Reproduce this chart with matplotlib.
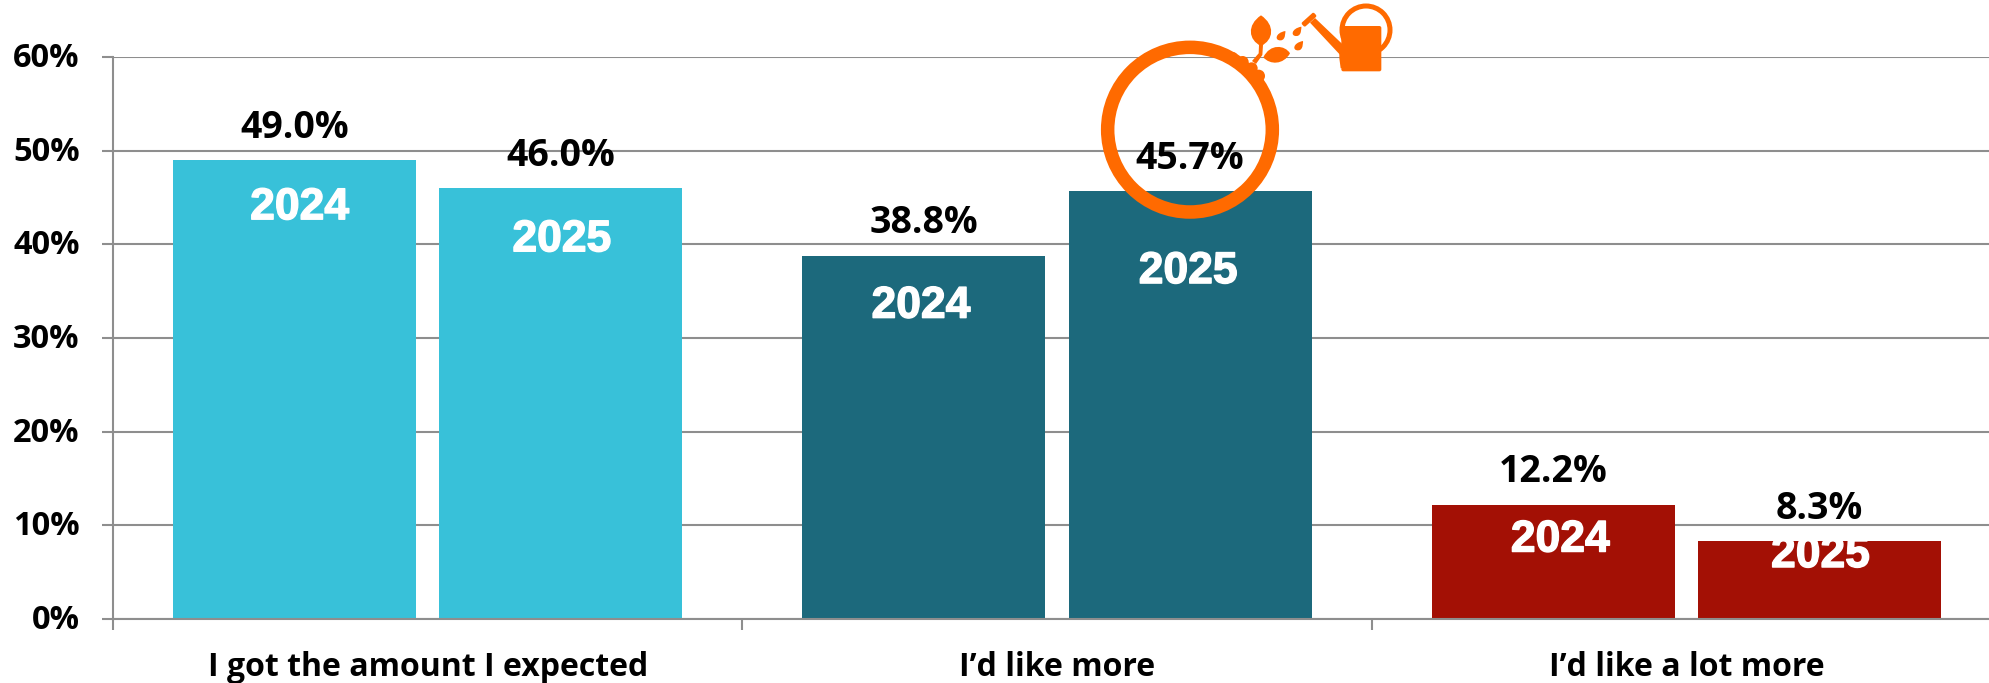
import numpy as np
import matplotlib
matplotlib.use("Agg")
import matplotlib.pyplot as plt
from matplotlib.patches import Circle, PathPatch, Polygon, FancyBboxPatch
from matplotlib.path import Path
from matplotlib.transforms import Affine2D, ScaledTranslation
import matplotlib.patheffects as pe

categories = ["I got the amount I expected", "I\u2019d like more", "I\u2019d like a lot more"]
values_2024 = [49.0, 38.8, 12.2]
values_2025 = [46.0, 45.7, 8.3]
series_names = ["2024", "2025"]
y_ticks = [0, 10, 20, 30, 40, 50, 60]
y_tick_labels = ["0%", "10%", "20%", "30%", "40%", "50%", "60%"]
colors = ["#38C1D9", "#1C697C", "#A31005"]

GRID = "#8E8E8E"
ORANGE = "#FF6A00"
W, H = 1990, 683
fig = plt.figure(figsize=(W / 100, H / 100), dpi=100, facecolor="white")
ax = fig.add_axes([113 / W, (H - 618.7) / H, (2001 - 113) / W, (618.7 - 57.3) / H])
ax.set_xlim(0, 3)
ax.set_ylim(0, 60)
PX = 72 / 100

open_bold = dict(family="Open Sans", fontweight="bold", color="black")
white_bold = dict(family="Liberation Sans", fontweight="bold", color="white")

x = np.arange(len(categories)) + 0.5
bar_w = 0.386
shift = 0.2115
name_offsets = {"2024": [(5, -43), (-3, -46), (7, -31)], "2025": [(1, -47), (-2, -76), (1, -10)]}
for vals, name, sgn in ((values_2024, "2024", -1), (values_2025, "2025", 1)):
    bars = ax.bar(x + sgn * shift, vals, bar_w, color=colors, zorder=2)
    for b, v, off in zip(bars, vals, name_offsets[name]):
        cx = b.get_x() + b.get_width() / 2
        ax.annotate(f"{v:.1f}%", (cx, v), xytext=(0, 37 * PX), textcoords="offset points",
                    ha="center", va="center_baseline", fontsize=27, zorder=6, **open_bold)
        ax.annotate(name, (cx, v), xytext=(off[0] * PX, off[1] * PX), textcoords="offset points",
                    ha="center", va="center_baseline", fontsize=32, zorder=5, **white_bold,
                    path_effects=[pe.withStroke(linewidth=1.0, foreground="white")])

ax.set_yticks(y_ticks, y_tick_labels, fontsize=23.5, **open_bold)
ax.set_xticks(np.arange(4))
ax.set_xticklabels([])
ax.set_xticks(x, categories, minor=True, fontsize=23, **open_bold)
ax.tick_params(axis="y", length=8, width=1.5, color=GRID, pad=16)
ax.tick_params(axis="x", which="major", length=8, width=1.5, color=GRID)
ax.tick_params(axis="x", which="minor", length=0, pad=23)
up = ScaledTranslation(0, 2.5 / 100, fig.dpi_scale_trans)
for t in ax.get_yticklabels():
    t.set_transform(t.get_transform() + up)
ax.grid(axis="y", color=GRID, lw=1.5, zorder=1)
ax.set_axisbelow(True)
for s in ("top", "right"):
    ax.spines[s].set_visible(False)
for s in ("left", "bottom"):
    ax.spines[s].set_color(GRID)
    ax.spines[s].set_linewidth(1.5)

# decorative badge, drawn in crop-based pixel coordinates (overlay, not data)
to_fig = Affine2D().scale(1 / 3, 1 / 3).translate(1060, 0).scale(1 / W, -1 / H).translate(0, 1) + fig.transFigure
def add(p):
    p.set_transform(to_fig)
    p.set_clip_on(False)
    p.set_zorder(4)
    fig.add_artist(p)

add(Circle((390, 389), 247, fc="none", ec=ORANGE, lw=13.5 * PX))
add(Circle((518, 172), 16, fc=ORANGE, ec="none"))
add(Circle((548, 186), 18, fc=ORANGE, ec="none"))
add(Circle((596, 228), 19, fc=ORANGE, ec="none"))
add(Circle((575, 205), 18, fc=ORANGE, ec="none"))

C4, M = Path.CURVE4, Path.MOVETO
def shape(verts):
    add(PathPatch(Path(verts, [M] + [C4] * (len(verts) - 1)), fc=ORANGE, ec="none"))

# leaves and stem
shape([(603, 46), (560, 75), (565, 120), (603, 138), (641, 120), (646, 75), (603, 46)])
shape([(610, 172), (630, 130), (675, 135), (690, 160), (670, 195), (630, 195), (610, 172)])
add(Polygon([(597, 135), (609, 135), (607, 165), (588, 192), (576, 183), (596, 160)], fc=ORANGE, ec="none"))

# drops
for (dx, dy) in [(660, 107), (708, 94), (713, 137)]:
    shape([(dx + 16, dy - 14), (dx - 16, dy - 8), (dx - 16, dy + 16), (dx + 2, dy + 14),
           (dx + 18, dy + 14), (dx + 16, dy - 14), (dx + 16, dy - 14)])

# watering can
add(Circle((918, 90), 72, fc="none", ec=ORANGE, lw=5 * PX))
add(FancyBboxPatch((848, 82), 112, 128, boxstyle="round,pad=4,rounding_size=6", fc=ORANGE, ec="none"))
add(Polygon([(838, 130), (860, 200), (842, 205), (838, 175)], fc=ORANGE, ec="none"))
add(Polygon([(750, 68), (765, 54), (850, 135), (850, 175)], fc=ORANGE, ec="none"))
head = FancyBboxPatch((0, 0), 42, 8, boxstyle="round,pad=4,rounding_size=5", fc=ORANGE, ec="none")
add(head)
head.set_transform(Affine2D().translate(-21, -4).rotate_deg(-42).translate(747, 59) + to_fig)

fig.savefig("out.png", dpi=100, facecolor="white")
